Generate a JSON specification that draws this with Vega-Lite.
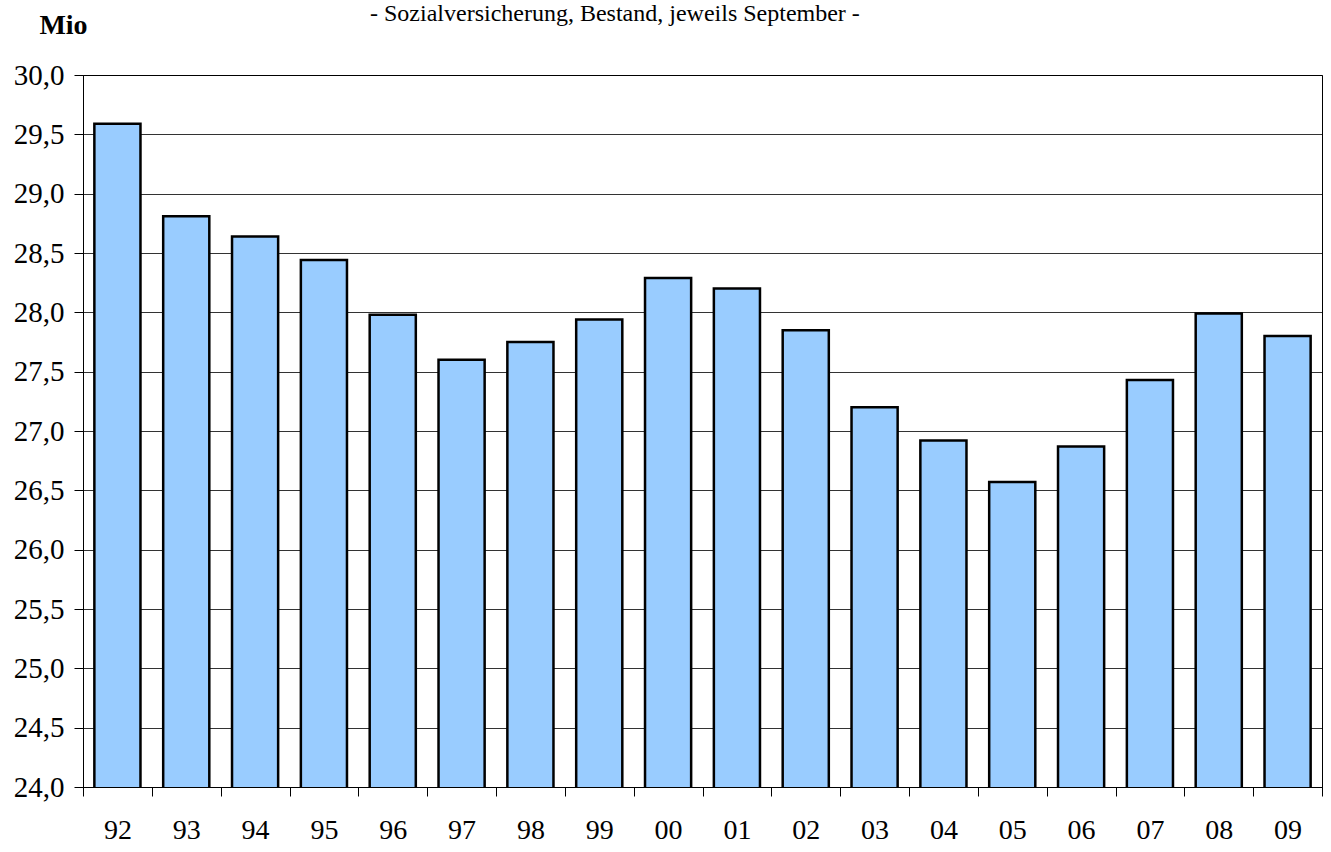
{
  "$schema": "https://vega.github.io/schema/vega-lite/v6.json",
  "autosize": "none",
  "width": 1239,
  "height": 712,
  "padding": {"left": 83, "top": 75, "right": 9, "bottom": 65},
  "background": "white",
  "title": {
    "text": "- Sozialversicherung, Bestand, jeweils September -",
    "anchor": "start",
    "frame": "group",
    "dx": 287,
    "font": "Liberation Serif",
    "fontSize": 24,
    "fontWeight": "normal",
    "color": "#000",
    "baseline": "alphabetic",
    "offset": -34
  },
  "data": {
    "values": [
      {"jahr": "92", "wert": 29.59},
      {"jahr": "93", "wert": 28.81},
      {"jahr": "94", "wert": 28.64},
      {"jahr": "95", "wert": 28.44},
      {"jahr": "96", "wert": 27.98},
      {"jahr": "97", "wert": 27.60},
      {"jahr": "98", "wert": 27.75},
      {"jahr": "99", "wert": 27.94},
      {"jahr": "00", "wert": 28.29},
      {"jahr": "01", "wert": 28.20},
      {"jahr": "02", "wert": 27.85},
      {"jahr": "03", "wert": 27.20},
      {"jahr": "04", "wert": 26.92},
      {"jahr": "05", "wert": 26.57},
      {"jahr": "06", "wert": 26.87},
      {"jahr": "07", "wert": 27.43},
      {"jahr": "08", "wert": 27.99},
      {"jahr": "09", "wert": 27.80}
    ]
  },
  "mark": {"type": "bar", "fill": "#99CCFF", "stroke": "#000", "strokeWidth": 2.5, "clip": true, "width": {"band": 0.67}},
  "encoding": {
    "x": {
      "field": "jahr",
      "type": "ordinal",
      "sort": null,
      "scale": {"paddingInner": 0, "paddingOuter": 0},
      "axis": {
        "title": null,
        "labelAngle": 0,
        "tickBand": "extent",
        "tickSize": 9,
        "tickColor": "#000",
        "domainColor": "#000",
        "labelFont": "Liberation Serif",
        "labelFontSize": 28,
        "labelColor": "#000",
        "labelPadding": 20,
        "grid": false,
        "zindex": 1
      }
    },
    "y": {
      "field": "wert",
      "type": "quantitative",
      "scale": {"domain": [24, 30], "zero": false, "nice": false},
      "axis": {
        "values": [24, 24.5, 25, 25.5, 26, 26.5, 27, 27.5, 28, 28.5, 29, 29.5, 30],
        "format": ".1f",
        "formatType": "number",
        "labelExpr": "replace(datum.label, '.', ',')",
        "tickSize": 9,
        "tickColor": "#000",
        "domainColor": "#000",
        "gridColor": "#000",
        "gridOpacity": 0.8,
        "labelFont": "Liberation Serif",
        "labelFontSize": 29,
        "labelColor": "#000",
        "labelPadding": 10,
        "title": "Mio",
        "titleAngle": 0,
        "titleX": -20,
        "titleY": -42,
        "titleAlign": "center",
        "titleBaseline": "alphabetic",
        "titleFont": "Liberation Serif",
        "titleFontSize": 28,
        "titleFontWeight": "bold",
        "titleColor": "#000"
      }
    }
  },
  "config": {
    "view": {"stroke": "#000", "strokeWidth": 1}
  }
}
